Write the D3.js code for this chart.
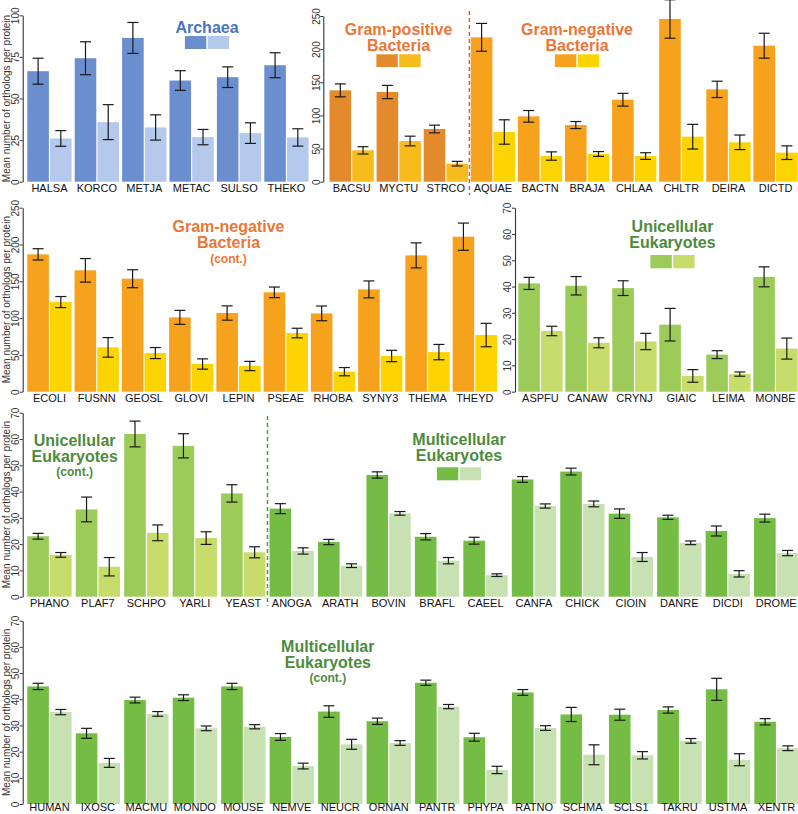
<!DOCTYPE html>
<html><head><meta charset="utf-8">
<script src="https://cdnjs.cloudflare.com/ajax/libs/d3/7.8.5/d3.min.js"></script>
<style>body{margin:0;background:#fff} svg{display:block;font-family:"Liberation Sans",Arial,sans-serif}</style>
</head><body><svg width="798" height="814"></svg>
<script>
// ---------------- DATA ----------------
const archaeaCats = ["HALSA","KORCO","METJA","METAC","SULSO","THEKO"];
const archaeaDark = [66.4,74.2,86.4,60.8,62.8,70];
const archaeaDarkErr = [7.8,9.9,9.3,5.9,6.2,7.5];
const archaeaLight = [26,35.8,32.6,26.8,29.2,26.6];
const archaeaLightErr = [4.7,10.5,7.6,4.6,6.2,5.2];

const gposCats = ["BACSU","MYCTU","STRCO"];
const gposDark = [137.8,135.3,79.5];
const gposDarkErr = [9.8,10,5.8];
const gposLight = [47.3,61.4,27.2];
const gposLightErr = [5.5,7.3,3.5];

const gnegCats = ["AQUAE","BACTN","BRAJA","CHLAA","CHLTR","DEIRA","DICTD"];
const gnegDark = [217.8,98.6,85.5,123.7,245.5,139.3,205.2];
const gnegDarkErr = [21,8.8,5.3,9.6,29,12.3,18.8];
const gnegLight = [75,38.7,41.8,38.7,67.9,59.4,43.8];
const gnegLightErr = [18.4,6.3,3.6,5,18.6,11,10.3];

const gneg2Cats = ["ECOLI","FUSNN","GEOSL","GLOVI","LEPIN","PSEAE","RHOBA","SYNY3","THEMA","THEYD"];
const gneg2Dark = [186.6,164.9,153.5,101,106.9,135,106.4,139,185.2,210.6];
const gneg2DarkErr = [7.7,16,12.2,9.5,9.7,7.2,10,11.5,17,18.5];
const gneg2Light = [121.8,60.2,52.5,37.6,34.9,79.7,27.2,48.5,53.8,77];
const gneg2LightErr = [7.5,13.3,7.5,7,6.3,6.5,5.6,7.7,10.4,15.9];

const uniCats = ["ASPFU","CANAW","CRYNJ","GIAIC","LEIMA","MONBE"];
const uniDark = [41.2,40.3,39.4,25.5,14.1,43.7];
const uniDarkErr = [2.3,3.5,2.8,6.2,1.5,3.8];
const uniLight = [23.1,18.6,19.1,6,6.7,16.4];
const uniLightErr = [1.8,1.9,3.1,2.4,0.8,4];

const uni2Cats = ["PHANO","PLAF7","SCHPO","YARLI","YEAST"];
const uni2Dark = [23,33.2,61.9,57.4,39.3];
const uni2DarkErr = [1.1,4.7,4.9,4.6,3.3];
const uni2Light = [15.9,11.4,24.3,22.3,16.9];
const uni2LightErr = [0.9,3.5,3,2.4,2.1];

const multiCats = ["ANOGA","ARATH","BOVIN","BRAFL","CAEEL","CANFA","CHICK","CIOIN","DANRE","DICDI","DROME"];
const multiDark = [33.5,20.8,46.3,22.8,21.3,44.6,47.6,31.6,30.2,25,29.9];
const multiDarkErr = [1.9,1,1.2,1.2,1.3,1.1,1.3,1.8,0.8,1.9,1.5];
const multiLight = [17.4,11.8,31.7,13.7,8.2,34.5,35.3,15.1,20.5,8.7,16.6];
const multiLightErr = [1.2,0.7,0.7,1.2,0.5,0.8,1.1,1.7,0.7,1.2,1];

const multi2Cats = ["HUMAN","IXOSC","MACMU","MONDO","MOUSE","NEMVE","NEUCR","ORNAN","PANTR","PHYPA","RATNO","SCHMA","SCLS1","TAKRU","USTMA","XENTR"];
const multi2Dark = [44.9,27,39.7,40.6,44.9,25.6,35.3,31.6,46.3,25.5,42.6,34.2,34.1,35.9,43.8,31.4];
const multi2DarkErr = [1.2,1.9,1.1,1.1,1.2,1.3,2.2,1.2,1,1.5,1.1,2.7,2.1,1.2,4.2,1.2];
const multi2Light = [35.1,15.7,34.4,28.9,29.5,14.5,22.8,23.3,37.2,13,29,18.8,18.6,24.1,16.9,21.3];
const multi2LightErr = [1,1.7,0.9,0.9,0.8,1.1,1.9,0.9,0.8,1.4,0.9,3.8,1.4,0.9,2.3,0.9];

const ticks100 = [0,25,50,75,100];
const ticks250 = [0,50,100,150,200,250];
const ticks70 = [0,10,20,30,40,50,60,70];
const yTitle = "Mean number of orthologs per protein";

// ---------------- STYLE ----------------
const COL = {
  archaea: ["#6b8fce","#b4c9eb"],
  gpos: ["#e38b2c","#f7bb1c"],
  gneg: ["#f7a21d","#fbd402"],
  uni: ["#9dcb5a","#c7dc6b"],
  multi: ["#74bc43","#c7e1b3"]
};
const ORANGE = "#ec7636", GREEN = "#4d8b3c", BLUE = "#4b73bc";

const svg = d3.select("svg");
const G = (cats,d,de,l,le,col)=>({cats,d,de,l,le,col});

const panels = [
  {axisX:22.7, first:27.3, step:47.4, y0:181.7, y1:15.3, max:100, ticks:ticks100, title:true, lab:10.3,
   groups:[G(archaeaCats,archaeaDark,archaeaDarkErr,archaeaLight,archaeaLightErr,COL.archaea)],
   labels:[{x:207, color:BLUE, lines:[["Archaea",33.3,16]], sw:[36,13,COL.archaea]}]},
  {axisX:323.3, first:329.5, step:47.1, y0:181.7, y1:16, max:250, ticks:ticks250, title:false, lab:10.3,
   divider:{after:"STRCO", color:"#d5603a", ya:11, yb:195},
   groups:[G(gposCats,gposDark,gposDarkErr,gposLight,gposLightErr,COL.gpos),
           G(gnegCats,gnegDark,gnegDarkErr,gnegLight,gnegLightErr,COL.gneg)],
   labels:[{x:398.5, color:ORANGE, lines:[["Gram-positive",35,16],["Bacteria",51,16]], sw:[54.3,12.7,COL.gpos]},
           {x:577, color:ORANGE, lines:[["Gram-negative",35,16],["Bacteria",51,16]], sw:[54.3,12.7,COL.gneg]}]},
  {axisX:22.7, first:27.3, step:47.26, y0:391.7, y1:207.7, max:250, ticks:ticks250, title:true, lab:10,
   groups:[G(gneg2Cats,gneg2Dark,gneg2DarkErr,gneg2Light,gneg2LightErr,COL.gneg)],
   labels:[{x:228.5, color:ORANGE, lines:[["Gram-negative",231.7,16],["Bacteria",248,16],["(cont.)",262.5,12]]}]},
  {axisX:515, first:518.3, step:47, y0:391.7, y1:207.7, max:70, ticks:ticks70, title:false, lab:10,
   groups:[G(uniCats,uniDark,uniDarkErr,uniLight,uniLightErr,COL.uni)],
   labels:[{x:672.5, color:GREEN, lines:[["Unicellular",232.3,16],["Eukaryotes",248.3,16]], sw:[255,13.3,COL.uni]}]},
  {axisX:22.7, first:27.3, step:48.45, y0:596.7, y1:412.7, max:70, ticks:ticks70, title:true, lab:10,
   divider:{after:"YEAST", color:"#4f9a3f", ya:416, yb:606},
   groups:[G(uni2Cats,uni2Dark,uni2DarkErr,uni2Light,uni2LightErr,COL.uni),
           G(multiCats,multiDark,multiDarkErr,multiLight,multiLightErr,COL.multi)],
   labels:[{x:74.7, color:GREEN, lines:[["Unicellular",445.7,16],["Eukaryotes",461.7,16],["(cont.)",475.5,12]]},
           {x:459, color:GREEN, lines:[["Multicellular",445,16],["Eukaryotes",461,16]], sw:[467.3,13,COL.multi]}]},
  {axisX:22.7, first:27.3, step:48.47, y0:804, y1:620.7, max:70, ticks:ticks70, title:true, lab:7,
   groups:[G(multi2Cats,multi2Dark,multi2DarkErr,multi2Light,multi2LightErr,COL.multi)],
   labels:[{x:327.8, color:GREEN, lines:[["Multicellular",652.3,16],["Eukaryotes",667.7,16],["(cont.)",681.5,12]]}]}
];

const GROUPW = 44.3, CAP = 11;

panels.forEach(p => {
  const g = svg.append("g");
  const rows = [];
  p.groups.forEach(gr => gr.cats.forEach((c,i) => rows.push({cat:c, d:gr.d[i], de:gr.de[i], l:gr.l[i], le:gr.le[i], col:gr.col})));
  const n = rows.length;
  const pad = 1 - GROUPW / p.step;
  const start = p.first - p.step * pad / 2;
  const x = d3.scaleBand().domain(rows.map(r=>r.cat)).range([start, start + n * p.step])
              .paddingInner(pad).paddingOuter(pad/2);
  const inner = d3.scaleBand().domain(["d","l"]).range([0, x.bandwidth()]).paddingInner(0.05);
  const y = d3.scaleLinear().domain([0, p.max]).range([p.y0, p.y1]);

  const bars = [];
  rows.forEach(r => {
    bars.push({cat:r.cat, k:"d", v:r.d, e:r.de, c:r.col[0]});
    bars.push({cat:r.cat, k:"l", v:r.l, e:r.le, c:r.col[1]});
  });
  g.selectAll("rect.bar").data(bars).join("rect").attr("class","bar")
    .attr("x", b => x(b.cat) + inner(b.k)).attr("width", inner.bandwidth())
    .attr("y", b => y(b.v)).attr("height", b => y(0) - y(b.v)).attr("fill", b => b.c);

  const eg = g.selectAll("g.err").data(bars).join("g").attr("class","err")
    .attr("transform", b => `translate(${x(b.cat) + inner(b.k) + inner.bandwidth()/2},0)`)
    .attr("stroke","#1a1a1a").attr("stroke-width",1.2);
  eg.append("line").attr("y1", b => y(b.v + b.e)).attr("y2", b => y(b.v - b.e));
  eg.append("line").attr("x1",-CAP/2).attr("x2",CAP/2).attr("y1", b => y(b.v + b.e)).attr("y2", b => y(b.v + b.e));
  eg.append("line").attr("x1",-CAP/2).attr("x2",CAP/2).attr("y1", b => y(b.v - b.e)).attr("y2", b => y(b.v - b.e));

  g.selectAll("text.cat").data(rows).join("text").attr("class","cat")
    .attr("x", r => x(r.cat) + x.bandwidth()/2).attr("y", p.y0 + p.lab)
    .attr("text-anchor","middle").attr("font-size",11).attr("fill","#111").text(r => r.cat);

  const ax = g.append("g").attr("transform", `translate(${p.axisX},0)`)
    .call(d3.axisLeft(y).tickValues(p.ticks).tickSize(3).tickSizeOuter(0));
  ax.select(".domain").attr("stroke","#333").attr("stroke-width",1.1);
  ax.selectAll(".tick line").attr("stroke","#333");
  ax.selectAll(".tick text").attr("transform","rotate(-90)").attr("x",0).attr("y",-3.6).attr("dy",0)
    .attr("text-anchor","middle").attr("font-size",10).attr("fill","#333")
    .attr("font-family",'"Liberation Sans",Arial,sans-serif');

  if (p.title) {
    g.append("text").attr("transform", `translate(9.5,${(p.y0+p.y1)/2}) rotate(-90)`)
      .attr("text-anchor","middle").attr("font-size",10).attr("fill","#333").text(yTitle);
  }

  if (p.divider) {
    const i = rows.findIndex(r => r.cat === p.divider.after);
    const xa = x(rows[i].cat) + x.bandwidth(), xb = x(rows[i+1].cat);
    const xm = (xa + xb) / 2;
    g.append("line").attr("x1",xm).attr("x2",xm).attr("y1",p.divider.ya).attr("y2",p.divider.yb)
      .attr("stroke",p.divider.color).attr("stroke-width",1.5).attr("stroke-dasharray","4,3");
  }

  p.labels.forEach(L => {
    L.lines.forEach(([t,ly,fs]) => {
      g.append("text").attr("x",L.x).attr("y",ly).attr("text-anchor","middle")
        .attr("font-size",fs).attr("font-weight","bold").attr("fill",L.color).text(t);
    });
    if (L.sw) {
      const [sy, sh, cols] = L.sw;
      const w = 21.4, gap = 1.4;
      cols.forEach((c,k) => {
        g.append("rect").attr("x", L.x - w - gap/2 + k*(w+gap)).attr("y", sy)
          .attr("width", w).attr("height", sh).attr("fill", c);
      });
    }
  });
});
</script></body></html>
